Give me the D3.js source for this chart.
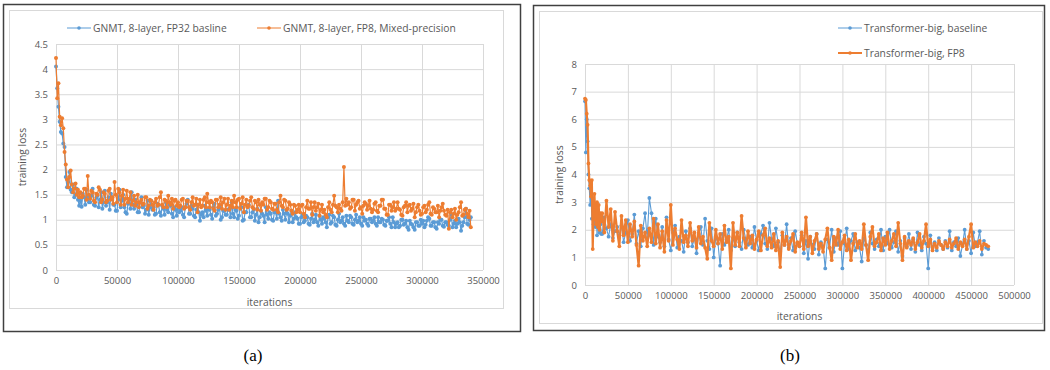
<!DOCTYPE html>
<html><head><meta charset="utf-8">
<script src="https://cdn.jsdelivr.net/npm/d3@7/dist/d3.min.js"></script>
<style>body{margin:0;background:#fff}svg{display:block}</style>
</head><body>
<svg id="c" width="1050" height="370"></svg>
<script>
// ---------- Data: (a) GNMT ----------
const itersA = d3.range(0, 340001, 1000);
const gnmtFP32 = [4.05,3.62,3.25,2.95,2.75,2.72,2.52,2.45,1.85,1.65,1.75,1.95,1.60,1.55,1.70,1.45,1.50,1.62,1.40,1.28,
1.38,1.26,1.52,1.45,1.30,1.60,1.45,1.35,1.35,1.48,1.62,1.30,1.28,1.44,1.48,1.25,1.40,1.55,1.22,1.35,
1.58,1.28,1.35,1.45,1.20,1.52,1.45,1.30,1.30,1.18,1.18,1.40,1.60,1.25,1.38,1.50,1.25,1.15,1.12,1.32,
1.40,1.22,1.55,1.30,1.22,1.40,1.30,1.15,1.15,1.35,1.45,1.25,1.28,1.12,1.20,1.38,1.10,1.25,1.38,1.20,
1.25,1.10,1.12,1.32,1.30,1.15,1.08,1.28,1.22,1.10,1.35,1.20,1.15,1.30,1.28,1.12,1.05,1.25,1.20,1.08,
1.30,1.15,1.18,1.25,1.10,1.05,1.25,1.32,1.40,1.12,1.12,1.28,1.22,1.08,1.05,1.20,1.30,1.15,0.98,1.10,
1.15,1.05,1.28,1.18,1.08,1.22,1.20,1.10,1.02,1.25,1.32,1.08,1.12,1.20,1.25,1.00,1.05,1.18,1.18,1.10,
1.10,1.20,1.22,1.05,1.35,1.12,1.05,1.20,1.18,1.02,1.08,1.25,1.25,0.98,1.00,1.15,1.15,1.28,1.30,1.05,
1.05,1.15,1.20,0.98,1.10,1.22,0.95,1.05,1.18,1.12,1.08,0.95,1.25,1.10,1.02,1.15,1.12,1.00,0.98,1.15,
1.15,1.02,1.38,1.12,1.05,0.98,1.20,1.12,1.00,1.15,1.12,0.95,1.08,1.18,0.95,1.02,1.15,1.05,1.02,0.92,
0.92,1.05,1.10,0.95,0.98,1.08,1.05,0.92,0.90,1.02,1.12,0.95,1.00,1.10,0.95,0.88,1.08,1.00,0.92,1.05,
1.02,0.95,0.85,1.05,1.10,0.92,0.95,1.08,1.05,0.90,0.88,1.00,1.12,0.95,0.98,1.05,0.92,0.88,1.08,0.98,
0.95,1.08,1.05,0.92,0.90,1.00,1.10,0.95,0.98,1.05,0.92,0.88,1.05,0.98,1.00,0.92,0.88,1.02,1.02,0.95,
0.98,1.05,0.92,0.88,1.05,0.95,0.95,1.02,1.00,0.90,0.88,0.98,0.98,1.05,0.92,0.85,1.05,0.95,0.85,0.92,
0.95,0.85,0.88,1.00,1.00,0.90,0.92,0.98,0.85,0.80,0.98,0.92,0.90,0.85,0.80,0.95,0.95,0.88,0.88,1.00,
0.92,0.98,0.85,0.90,0.98,1.05,1.02,0.88,0.88,0.95,0.95,0.85,0.82,0.95,0.92,1.00,1.00,0.88,0.86,0.95,
0.95,0.90,0.88,1.00,1.10,0.85,0.92,0.98,0.85,0.92,1.02,0.95,0.78,0.88,0.95,1.05,1.22,0.92,0.90,1.00,
1.05];
const gnmtFP8 = [4.22,3.42,3.72,3.05,2.88,3.02,2.82,2.35,2.10,1.80,1.65,1.85,1.98,1.70,1.55,1.62,1.72,1.50,1.60,1.45,
1.55,1.45,1.48,1.62,1.62,1.40,1.87,1.50,1.42,1.58,1.55,1.38,1.35,1.52,1.50,1.65,1.60,1.35,1.40,1.55,
1.52,1.35,1.38,1.58,1.62,1.40,1.45,1.32,1.75,1.50,1.35,1.62,1.55,1.30,1.48,1.60,1.30,1.42,1.58,1.35,
1.42,1.55,1.30,1.38,1.48,1.28,1.35,1.50,1.25,1.35,1.40,1.30,1.32,1.45,1.45,1.22,1.28,1.40,1.38,1.30,
1.20,1.35,1.42,1.28,1.30,1.45,1.55,1.30,1.25,1.40,1.38,1.25,1.48,1.35,1.30,1.42,1.22,1.38,1.40,1.28,
1.35,1.25,1.28,1.40,1.42,1.22,1.25,1.38,1.38,1.25,1.20,1.35,1.45,1.28,1.30,1.42,1.15,1.30,1.40,1.25,
1.28,1.40,1.45,1.25,1.52,1.35,1.25,1.38,1.35,1.22,1.18,1.40,1.40,1.25,1.30,1.45,1.22,1.35,1.42,1.20,
1.30,1.42,1.20,1.28,1.38,1.25,1.48,1.35,1.25,1.40,1.42,1.22,1.32,1.45,1.15,1.30,1.40,1.25,1.28,1.38,
1.45,1.25,1.22,1.38,1.35,1.20,1.40,1.30,1.18,1.35,1.30,1.42,1.42,1.20,1.25,1.38,1.35,1.22,1.20,1.32,
1.32,1.20,1.15,1.35,1.48,1.28,1.25,1.40,1.38,1.20,1.22,1.35,1.30,1.18,1.12,1.30,1.28,1.15,1.20,1.30,
1.15,1.28,1.30,1.12,1.05,1.25,1.38,1.22,1.22,1.35,1.10,1.25,1.35,1.18,1.25,1.32,1.08,1.20,1.30,1.15,
1.20,1.10,1.05,1.25,1.35,1.20,1.15,1.30,1.48,1.28,1.25,1.15,1.30,1.22,1.18,1.35,2.05,1.28,1.42,1.30,
1.35,1.22,1.25,1.40,1.40,1.18,1.30,1.35,1.38,1.22,1.25,1.12,1.28,1.35,1.32,1.20,1.28,1.38,1.22,1.15,
1.20,1.32,1.35,1.18,1.15,1.28,1.28,1.40,1.40,1.22,1.22,1.10,1.10,1.30,1.30,1.18,1.25,1.35,1.18,1.22,
1.35,1.22,1.20,1.10,1.08,1.25,1.28,1.35,1.15,1.28,1.30,1.18,1.22,1.32,1.05,1.15,1.25,1.30,1.18,1.10,
1.12,1.25,1.28,1.15,1.20,1.30,1.35,1.12,1.10,1.25,1.22,1.15,1.15,1.28,1.05,1.18,1.25,1.32,1.18,1.10,
1.08,1.20,0.82,1.15,1.20,1.05,1.12,1.22,1.00,1.10,1.15,1.25,1.35,1.08,1.10,1.20,1.22,1.12,1.05,1.18,
0.85];
const xTicksA = [0,50000,100000,150000,200000,250000,300000,350000];
const yTicksA = [0,0.5,1,1.5,2,2.5,3,3.5,4,4.5];

// ---------- Data: (b) Transformer-big ----------
const itersB = [...d3.range(0, 20000, 1000), ...d3.range(20000, 470001, 2500)];
const tfBase = [6.65,4.80,6.00,5.20,4.00,3.50,2.90,3.30,2.40,2.90,2.20,2.50,2.10,2.70,1.80,2.30,2.50,1.90,2.20,1.85,
1.85,2.45,2.05,1.75,2.20,1.70,1.95,2.10,
1.80,2.15,1.55,1.90,2.35,1.60,1.85,2.55,
1.50,1.95,1.40,2.05,2.60,1.70,3.15,2.60,
1.45,2.40,1.75,1.55,2.10,1.40,2.45,1.65,
1.25,1.90,2.15,1.35,1.75,1.60,1.20,1.95,
1.55,2.05,1.40,1.70,1.15,1.85,2.10,1.45,
2.40,1.60,1.30,2.05,1.00,1.75,1.50,0.70,
1.85,1.45,1.65,2.00,1.25,1.70,1.40,1.90,
1.55,1.30,2.00,1.65,1.45,1.75,1.35,2.10,
1.60,1.25,1.85,2.15,1.50,1.30,2.25,1.65,
1.40,2.05,1.55,1.20,1.80,1.45,2.20,1.35,
1.70,1.25,1.95,1.50,1.40,1.80,1.15,1.60,
0.95,1.75,1.45,1.30,1.85,1.10,1.55,1.40,
0.60,1.65,1.35,2.00,1.20,1.70,1.45,1.95,
0.60,1.50,2.05,1.30,1.60,1.85,1.25,1.55,
1.35,0.85,1.70,1.45,1.20,1.90,1.50,1.30,
1.65,1.40,2.00,1.25,1.75,1.50,2.00,1.35,
1.55,1.95,1.20,1.60,1.05,1.70,1.40,1.85,
1.30,1.65,1.20,1.90,1.45,1.25,1.75,1.50,
0.60,1.80,1.35,1.55,1.25,1.70,1.45,1.30,
1.60,1.35,1.95,1.25,1.55,1.40,1.70,1.05,
1.45,2.00,1.30,1.60,1.15,1.90,1.40,1.55,
1.95,1.10,1.60,1.35,1.30];
const tfFP8 = [6.75,6.70,6.20,5.80,4.40,3.80,3.60,3.20,3.80,1.30,2.70,3.30,2.40,2.20,3.00,2.10,2.90,2.00,2.60,2.30,
2.60,1.90,3.05,2.10,2.75,1.60,2.65,1.95,
1.40,2.50,1.80,2.35,1.55,2.20,1.75,2.30,
1.45,0.70,2.15,1.60,1.90,1.40,2.05,1.55,
2.40,1.50,2.20,1.35,1.95,1.20,2.35,1.60,
2.90,1.45,2.05,1.65,1.30,2.35,1.55,1.80,
1.40,2.25,1.60,1.90,1.35,2.10,1.50,1.75,
1.35,0.95,2.25,1.60,1.40,2.00,1.50,1.85,
1.30,2.15,1.55,1.75,0.60,2.25,1.45,1.90,
1.40,2.50,1.70,1.35,1.95,1.50,1.80,1.30,
1.65,1.95,1.25,1.80,2.05,1.40,1.70,1.35,
1.85,1.25,1.60,0.65,1.90,1.45,1.75,1.30,
1.60,1.85,1.20,1.55,1.40,1.90,1.30,2.45,
1.40,1.75,1.15,1.60,1.85,1.30,1.50,1.20,
1.65,2.05,1.35,0.90,1.75,1.45,2.00,1.30,
1.55,1.80,1.25,1.65,0.90,1.50,1.85,1.35,
1.60,1.30,2.20,1.45,0.90,1.75,2.10,1.40,
1.55,1.85,1.25,1.70,1.45,1.90,1.30,1.60,
1.85,1.40,2.25,1.50,0.90,1.75,1.35,1.60,
1.45,1.70,1.30,1.55,1.85,1.35,1.60,2.20,
1.40,1.65,1.25,1.50,1.35,1.60,1.45,1.30,
1.55,1.40,1.65,1.35,1.50,1.70,1.30,1.55,
1.40,1.65,1.30,1.75,2.20,1.35,1.55,1.40,
1.60,1.30,1.50,1.45,1.40];
const xTicksB = [0,50000,100000,150000,200000,250000,300000,350000,400000,450000,500000];
const yTicksB = [0,1,2,3,4,5,6,7,8];

// ---------- Drawing ----------
const BLUE = "#5B9BD5", ORANGE = "#ED7D31", GRID = "#d9d9d9", TXT = "#595959";
const FONT = "'Open Sans', 'Liberation Sans', sans-serif";
const svg = d3.select("#c");

function panel(cfg) {
  const g = svg.append("g");
  g.append("rect").attr("x", cfg.outer[0]).attr("y", cfg.outer[1]).attr("width", cfg.outer[2]).attr("height", cfg.outer[3])
    .attr("fill", "none").attr("stroke", "#404040").attr("stroke-width", 1.5);
  g.append("rect").attr("x", cfg.inner[0]).attr("y", cfg.inner[1]).attr("width", cfg.inner[2]).attr("height", cfg.inner[3])
    .attr("fill", "none").attr("stroke", GRID).attr("stroke-width", 1);

  const x = d3.scaleLinear().domain(cfg.xDomain).range(cfg.xRange);
  const y = d3.scaleLinear().domain(cfg.yDomain).range(cfg.yRange);

  g.append("g").attr("transform", `translate(0,${cfg.yRange[0]})`)
    .call(d3.axisBottom(x).tickValues(cfg.xTicks).tickSize(-(cfg.yRange[0] - cfg.yRange[1])).tickFormat(d => d).tickPadding(7))
    .call(a => a.select(".domain").remove())
    .call(a => a.selectAll("line").attr("stroke", GRID))
    .call(a => a.selectAll("text").attr("fill", TXT).style("font-family", FONT).style("font-size", "9.5px"));
  g.append("g").attr("transform", `translate(${cfg.xRange[0]},0)`)
    .call(d3.axisLeft(y).tickValues(cfg.yTicks).tickSize(-(cfg.xRange[1] - cfg.xRange[0])).tickFormat(d => d).tickPadding(8))
    .call(a => a.select(".domain").remove())
    .call(a => a.selectAll("line").attr("stroke", GRID))
    .call(a => a.selectAll("text").attr("fill", TXT).style("font-family", FONT).style("font-size", "9.5px"));

  g.append("text").attr("x", (cfg.xRange[0] + cfg.xRange[1]) / 2).attr("y", cfg.xTitleY).attr("text-anchor", "middle")
    .attr("fill", TXT).style("font-family", FONT).style("font-size", "10.3px").text("iterations");
  g.append("text").attr("transform", `translate(${cfg.yTitleX},${(cfg.yRange[0] + cfg.yRange[1]) / 2}) rotate(-90)`)
    .attr("text-anchor", "middle").attr("fill", TXT).style("font-family", FONT).style("font-size", "10.3px").text("training loss");

  cfg.series.forEach(s => {
    const pts = cfg.iters.map((it, i) => [it, s.values[i]]);
    g.append("path").datum(pts)
      .attr("d", d3.line().x(d => x(d[0])).y(d => y(d[1])))
      .attr("fill", "none").attr("stroke", s.color).attr("stroke-width", s.width).attr("stroke-linejoin", "round");
    g.append("g").selectAll("circle").data(pts).join("circle")
      .attr("cx", d => x(d[0])).attr("cy", d => y(d[1])).attr("r", s.r).attr("fill", s.color);
  });

  cfg.series.forEach(s => {
    const [lx, ly] = s.legend;
    g.append("line").attr("x1", lx).attr("x2", lx + 24).attr("y1", ly).attr("y2", ly)
      .attr("stroke", s.color).attr("stroke-width", s.legendWidth);
    g.append("circle").attr("cx", lx + 12).attr("cy", ly).attr("r", 1.8).attr("fill", s.color);
    g.append("text").attr("x", lx + 26).attr("y", ly + 3.5).attr("fill", TXT)
      .style("font-family", FONT).style("font-size", "10.3px").text(s.name);
  });

  svg.append("text").attr("x", cfg.caption[0]).attr("y", cfg.caption[1]).attr("text-anchor", "middle")
    .style("font-family", "'Liberation Serif', 'Times New Roman', serif").style("font-size", "17px").attr("fill", "#000")
    .text(cfg.captionText);
}

panel({
  outer: [3.5, 4.5, 517, 327], inner: [9.5, 10.5, 494, 298],
  xDomain: [0, 350000], xRange: [56, 483], yDomain: [0, 4.5], yRange: [270, 44],
  xTicks: xTicksA, yTicks: yTicksA, iters: itersA,
  xTitleY: 306, yTitleX: 26,
  series: [
    {name: "GNMT, 8-layer, FP32 basline", values: gnmtFP32, color: BLUE, width: 1.2, legendWidth: 1, r: 2, legend: [67, 28]},
    {name: "GNMT, 8-layer, FP8, Mixed-precision", values: gnmtFP8, color: ORANGE, width: 1.2, legendWidth: 1, r: 2, legend: [257, 28]}
  ],
  caption: [253, 361], captionText: "(a)"
});

panel({
  outer: [533.5, 5.5, 511, 325], inner: [539.5, 11.5, 503, 312],
  xDomain: [0, 500000], xRange: [585, 1014], yDomain: [0, 8], yRange: [285, 64],
  xTicks: xTicksB, yTicks: yTicksB, iters: itersB,
  xTitleY: 320, yTitleX: 563,
  series: [
    {name: "Transformer-big, baseline", values: tfBase, color: BLUE, width: 1.1, legendWidth: 1, r: 1.9, legend: [838, 28]},
    {name: "Transformer-big, FP8", values: tfFP8, color: ORANGE, width: 2.2, legendWidth: 2, r: 1.9, legend: [838, 53]}
  ],
  caption: [790, 361], captionText: "(b)"
});
</script>
</body></html>
